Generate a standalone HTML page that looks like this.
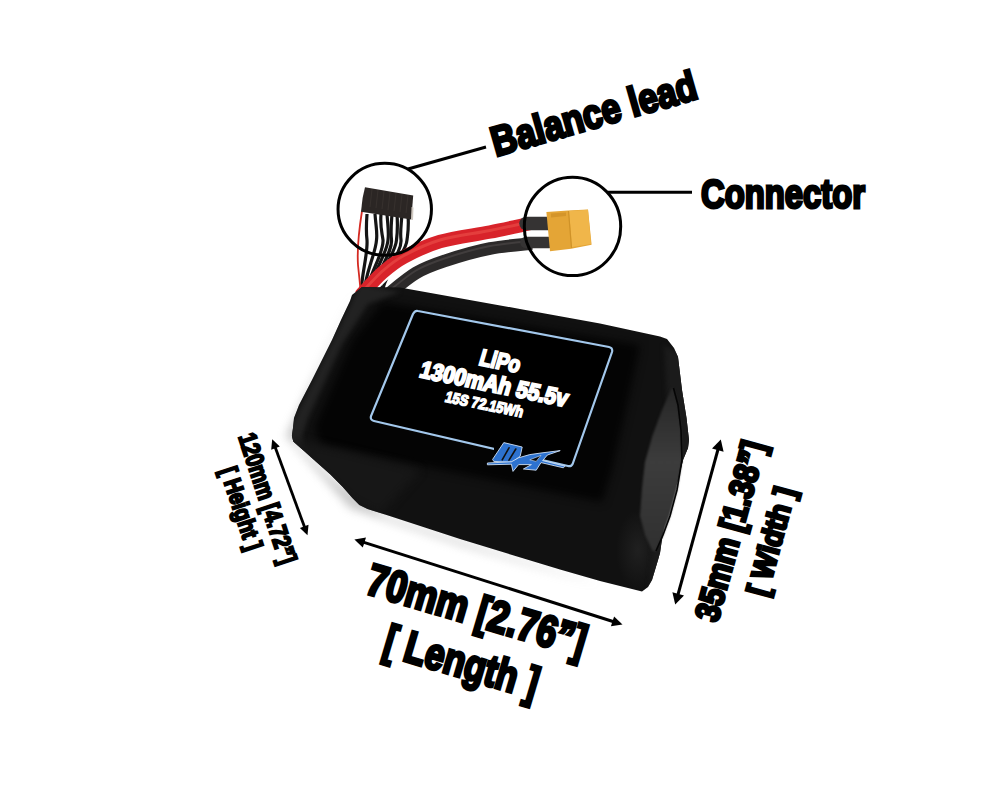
<!DOCTYPE html>
<html><head><meta charset="utf-8">
<style>
html,body{margin:0;padding:0;background:#fff;width:1000px;height:800px;overflow:hidden}
svg{display:block}
text{font-family:"Liberation Sans",sans-serif;font-weight:bold}
</style></head><body>
<svg width="1000" height="800" viewBox="0 0 1000 800">
<defs>
<filter id="shadow" x="-30%" y="-30%" width="160%" height="160%"><feGaussianBlur color-interpolation-filters="sRGB" stdDeviation="5"/></filter>
<filter id="bigblur" x="-100%" y="-100%" width="300%" height="300%"><feGaussianBlur color-interpolation-filters="sRGB" stdDeviation="5"/></filter>
<filter id="soft" x="-20%" y="-20%" width="140%" height="140%"><feGaussianBlur color-interpolation-filters="sRGB" stdDeviation="4"/></filter>
<filter id="soft2" x="-20%" y="-20%" width="140%" height="140%"><feGaussianBlur color-interpolation-filters="sRGB" stdDeviation="2"/></filter>
<filter id="soft1" x="-20%" y="-20%" width="140%" height="140%"><feGaussianBlur color-interpolation-filters="sRGB" stdDeviation="1"/></filter>
<clipPath id="bodyclip"><polygon points="352,295 362,287 400,287.6 520,309 600,323.6 660,336.4 667,339 674,348 678,357 682,390 686.5,418 689,440 688,448 683,460 678,480 675,488 664,525 660,553 658,560 652,580 648,587 642,591.5 600,581 560,569.5 460,539 385,514.5 367.5,509 359.3,505 352.4,498 342.8,487 330.4,474.6 316.6,462.3 302.9,450 293.3,441.6 291.9,436 293,428 294,418 299,405 312,380 322,360 332,340 341,320 350,301"/></clipPath>
<radialGradient id="cornerg"><stop offset="0" stop-color="#2a2a2a" stop-opacity="0.6"/><stop offset="1" stop-color="#2a2a2a" stop-opacity="0"/></radialGradient>
<linearGradient id="panelg" x1="0" y1="0" x2="0" y2="1"><stop offset="0" stop-color="#262626"/><stop offset="0.45" stop-color="#3c3c3c"/><stop offset="1" stop-color="#303030"/></linearGradient>
</defs>
<rect width="1000" height="800" fill="#fff"/>

<g id="g_shadow" filter="url(#shadow)" fill="#9a9a9a" opacity="0.55">
<polygon points="356,290 286,436 350,508 460,545 642,597 600,585 460,541 385,516 330,476 295,442 320,370"/>
</g>

<g id="g_wires">
<g stroke="#151515" stroke-width="3.2" fill="none">
<path d="M367.0,214 C366.0,228 366.0,232 367.0,240 C368.0,255 361.0,275 361.0,296"/>
<path d="M375.0,214 C376.0,228 377.5,232 376.5,240 C375.5,255 364.0,275 364.0,296"/>
<path d="M381.0,214 C380.0,228 382.0,232 383.0,240 C384.0,255 367.0,275 367.0,296"/>
<path d="M387.0,214 C388.0,228 389.0,232 388.0,240 C387.0,255 370.0,275 370.0,296"/>
<path d="M392.0,214 C391.0,228 390.5,232 391.5,240 C392.5,255 373.0,275 373.0,296"/>
<path d="M397.0,214 C398.0,228 397.5,232 396.5,240 C395.5,255 376.0,275 376.0,296"/>
<path d="M402.0,214 C401.0,228 400.0,232 401.0,240 C402.0,255 379.0,275 379.0,296"/>
<path d="M408.0,214 C409.0,228 408.0,232 407.0,240 C406.0,255 382.0,275 382.0,296"/>
</g>
<path d="M362,211 C359,230 357,250 358,265 C359,275 360,283 361,296" stroke="#d42a22" stroke-width="1.8" fill="none"/>
<polygon fill="#2b2624" points="365,187.3 413.2,195.6 411.3,219.6 361,211.8 362.6,198"/>
<g stroke="#3a3430" stroke-width="0.8">
<line x1="372" y1="189" x2="370" y2="207"/><line x1="378" y1="190" x2="376" y2="208"/><line x1="384" y1="191" x2="382" y2="209"/><line x1="390" y1="192" x2="388" y2="210"/><line x1="396" y1="193" x2="394" y2="211"/><line x1="402" y1="194" x2="400" y2="212"/><line x1="408" y1="195" x2="406" y2="213"/>
</g>
<polygon fill="#cfc8c0" points="411.5,207 413.5,207.5 413,220 411.2,219.8"/>
<path d="M386.0,296.0 C391.0,292.2 406.0,278.9 416.0,273.0 C426.0,267.1 433.7,264.6 446.0,260.5 C458.3,256.4 475.7,251.3 490.0,248.5 C504.3,245.7 525.0,244.3 532.0,243.5" stroke="#2c2a2a" stroke-width="12.5" fill="none"/>
<path d="M386.0,296.0 C391.0,292.2 406.0,278.9 416.0,273.0 C426.0,267.1 433.7,264.6 446.0,260.5 C458.3,256.4 475.7,251.3 490.0,248.5 C504.3,245.7 525.0,244.3 532.0,243.5" stroke="#4a4646" stroke-width="2" fill="none" opacity="0.7" transform="translate(0,-2.5)"/>
<path d="M360.0,296.0 C363.7,292.2 374.7,279.5 382.0,273.0 C389.3,266.5 394.3,262.2 404.0,257.0 C413.7,251.8 425.7,245.7 440.0,241.5 C454.3,237.3 475.0,235.0 490.0,232.0 C505.0,229.0 523.3,224.9 530.0,223.5" stroke="#fff" stroke-width="13" fill="none" transform="translate(0.8,2.4)"/>
<path d="M360.0,296.0 C363.7,292.2 374.7,279.5 382.0,273.0 C389.3,266.5 394.3,262.2 404.0,257.0 C413.7,251.8 425.7,245.7 440.0,241.5 C454.3,237.3 475.0,235.0 490.0,232.0 C505.0,229.0 523.3,224.9 530.0,223.5" stroke="#d8232a" stroke-width="13.5" fill="none"/>
<path d="M360.0,296.0 C363.7,292.2 374.7,279.5 382.0,273.0 C389.3,266.5 394.3,262.2 404.0,257.0 C413.7,251.8 425.7,245.7 440.0,241.5 C454.3,237.3 475.0,235.0 490.0,232.0 C505.0,229.0 523.3,224.9 530.0,223.5" stroke="#f05a50" stroke-width="3" fill="none" opacity="0.5" transform="translate(0,-1.5)"/>
<path d="M526,223.5 L548,223.5" stroke="#353333" stroke-width="13.5" stroke-linecap="round"/>
<path d="M526,242.4 L549,242.4" stroke="#353333" stroke-width="11.5" stroke-linecap="round"/>
<polygon fill="#e4a536" points="546.4,212 568,210.4 588,209.6 591.6,244.8 571.2,248.8 550,251.2"/>
<polygon fill="#f0b64a" points="569,211 588,209.8 591,244 572,247"/>
<polygon fill="#d4952a" points="551,213.6 566,212.4 566,216 551,217.4"/>
<line x1="568.5" y1="211" x2="571.5" y2="248" stroke="#cf9228" stroke-width="1.2"/>
</g>

<g id="g_body">
<g clip-path="url(#bodyclip)">
<rect x="280" y="280" width="420" height="320" fill="#111"/>
<ellipse cx="638" cy="550" rx="22" ry="40" fill="url(#cornerg)"/>
<polygon filter="url(#soft)" fill="#040404" points="382,302 640,345 628,400 612,470 602,502 322,446 314,428 352,340"/>
<polygon filter="url(#soft2)" fill="#222" points="360,284 288,432 290,448 304,452 302,436 308,418 342,344 368,304 400,292"/>
<polygon filter="url(#soft2)" fill="#1b1b1b" points="664,345 690,360 695,470 665,600 648,600 655,520 668,420"/>
<polygon filter="url(#soft)" fill="#171717" points="288,438 340,450 420,470 380,515 352,500 320,470 300,452"/>
</g>
<polygon filter="url(#soft1)" fill="url(#panelg)" points="671.75,388 662,410 652.5,435.5 645,462 642,488 640,516 645,535 652.5,551 656,551 663,535 670,516 677,490 682,460 681,430 678,405 673.5,388"/>
<path d="M673.5,388 L678,405 L681,430 L682,460 L677,490 L670,516 L663,535 L656,551" fill="none" stroke="#050505" stroke-width="1.6"/>
</g>

<g id="g_label">
<path d="M418,311 L609,347 Q613,348 612,352 L573,463 Q572,467 568,466 L374,421 Q370,420 371,416 L413,314 Q415,310 418,311 Z" fill="#000" stroke="#a3c8ec" stroke-width="2.2"/>
<g fill="#fff" stroke="#fff" stroke-linejoin="miter">
<text id="t_lipo" transform="translate(498.00,368.80) rotate(11.50) skewX(-5.00) scale(1,1.220)" font-size="19.0" stroke-width="1.70" text-anchor="middle" dy="0.00" textLength="41.0" lengthAdjust="spacingAndGlyphs">LiPo</text>
<text id="t_1300" transform="translate(492.00,391.80) rotate(11.50) skewX(-5.00) scale(1,1.280)" font-size="18.5" stroke-width="1.70" text-anchor="middle" dy="0.00" textLength="150.0" lengthAdjust="spacingAndGlyphs">1300mAh 55.5v</text>
<text id="t_15s" transform="translate(483.00,409.40) rotate(11.50) skewX(-5.00) scale(1,1.220)" font-size="12.5" stroke-width="1.20" text-anchor="middle" dy="0.00" textLength="79.0" lengthAdjust="spacingAndGlyphs">15S 72.15Wh</text>
</g>
<g stroke="#cfe0f4" stroke-width="0.9" stroke-linejoin="round">
<polygon fill="#000" stroke="none" points="494.0,447.0 541.0,458.2 541.0,464.6 494.0,453.4"/>
<polygon fill="#2d72cf" points="492.6,459.4 503.8,442.6 522.2,447.0 520.2,456.2 512.6,461.8 509.0,462.2 493.8,461.4"/>
<polygon fill="#2d72cf" points="487.4,463.0 511.4,461.8 518.6,457.8 529.8,454.6 541.0,453.0 560.2,450.6 547.4,455.0 542.6,460.6 565.0,466.2 563.4,467.8 541.0,462.6 536.2,470.2 523.4,469.0 531.4,464.6 518.6,464.6 513.0,471.4 511.4,464.2 487.4,464.8"/>
</g>
<polygon fill="#050505" stroke="#cfe0f4" stroke-width="0.6" points="529.8,459.8 541.0,455.4 536.2,461.4"/>
<g stroke="#111" stroke-width="1.6" stroke-linecap="round"><line x1="509.0" y1="447.8" x2="502.2" y2="459.8"/><line x1="515.8" y1="449.0" x2="509.0" y2="460.2"/></g>
</g>

<g id="g_circles">
<ellipse cx="384.75" cy="209.35" rx="46.7" ry="46" fill="none" stroke="#000" stroke-width="3"/>
<ellipse cx="572.5" cy="226.4" rx="48.2" ry="49.2" fill="none" stroke="#000" stroke-width="3"/>
<line x1="408" y1="169" x2="486" y2="147" stroke="#000" stroke-width="3"/>
<line x1="608" y1="192.3" x2="692" y2="192.3" stroke="#000" stroke-width="3"/>
</g>

<g id="g_callout" fill="#000" stroke="#000" stroke-linejoin="miter">
<text id="t_bal" transform="translate(597.70,127.20) rotate(-16.00)" font-size="41.5" stroke-width="3.00" text-anchor="middle" dy="0.00" textLength="212.0" lengthAdjust="spacingAndGlyphs">Balance lead</text>
<text id="t_con" transform="translate(783.00,207.50) rotate(0.00)" font-size="41.5" stroke-width="3.00" text-anchor="middle" dy="0.00" textLength="164.0" lengthAdjust="spacingAndGlyphs">Connector</text>
</g>

<g id="g_arrows">
<line x1="274.9" y1="446.4" x2="304.9" y2="528.1" stroke="#000" stroke-width="2.8"/>
<polygon fill="#000" points="272.2,439.2 271.2,449.8 279.8,446.6"/>
<polygon fill="#000" points="307.5,535.2 299.9,527.9 308.5,524.7"/>
<line x1="362.4" y1="541.9" x2="614.5" y2="622.0" stroke="#000" stroke-width="3.0"/>
<polygon fill="#000" points="354.4,539.4 362.8,547.5 366.0,537.6"/>
<polygon fill="#000" points="622.5,624.5 610.9,626.3 614.1,616.4"/>
<line x1="718.4" y1="448.0" x2="677.6" y2="596.0" stroke="#000" stroke-width="3.0"/>
<polygon fill="#000" points="720.8,439.5 712.0,448.5 723.6,451.7"/>
<polygon fill="#000" points="675.2,604.5 672.4,592.3 684.0,595.5"/>
</g>

<g id="g_dim" fill="#000" stroke="#000" stroke-linejoin="miter">
<text id="t_120" transform="translate(268.70,498.00) rotate(71.80)" font-size="25.0" stroke-width="2.10" text-anchor="middle" dy="9.80" textLength="136.0" lengthAdjust="spacingAndGlyphs">120mm [4.72”]</text>
<text id="t_hei" transform="translate(242.50,508.00) rotate(71.70)" font-size="24.0" stroke-width="2.10" text-anchor="middle" dy="9.40" textLength="86.0" lengthAdjust="spacingAndGlyphs">[ Height ]</text>
<text id="t_70" transform="translate(472.50,625.00) rotate(16.50)" font-size="44.5" stroke-width="3.20" text-anchor="middle" dy="0.00" textLength="227.0" lengthAdjust="spacingAndGlyphs">70mm [2.76”]</text>
<text id="t_len" transform="translate(457.40,676.50) rotate(16.50)" font-size="44.5" stroke-width="3.20" text-anchor="middle" dy="0.00" textLength="159.0" lengthAdjust="spacingAndGlyphs">[ Length ]</text>
<text id="t_35" transform="translate(729.00,530.50) rotate(-74.70)" font-size="34.0" stroke-width="3.00" text-anchor="middle" dy="13.00" textLength="185.0" lengthAdjust="spacingAndGlyphs">35mm [1.38”]</text>
<text id="t_wid" transform="translate(770.00,541.00) rotate(-74.80)" font-size="30.0" stroke-width="2.70" text-anchor="middle" dy="11.50" textLength="111.0" lengthAdjust="spacingAndGlyphs">[ Width ]</text>
</g>
</svg>
</body></html>
